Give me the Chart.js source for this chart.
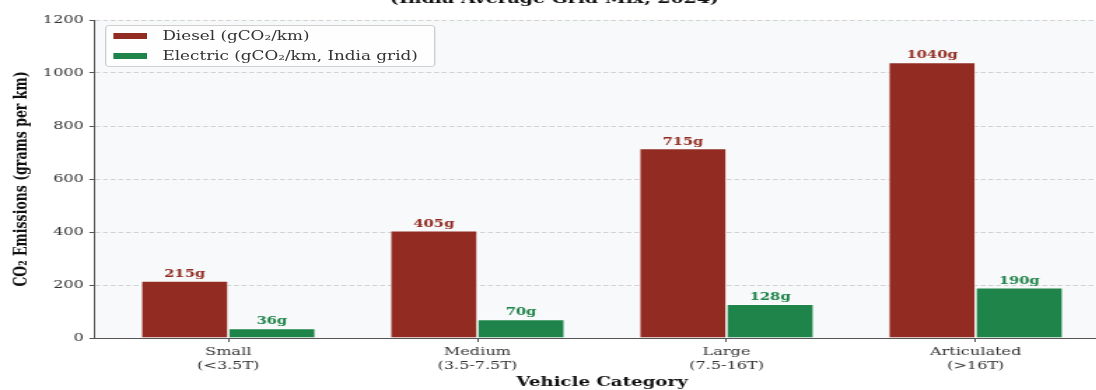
<!DOCTYPE html>
<html><head><meta charset="utf-8">
<script src="https://cdn.jsdelivr.net/npm/chart.js@4.4.1/dist/chart.umd.min.js"></script>
<style>
html,body{margin:0;padding:0;background:#fff;overflow:hidden;width:1096px;height:390px;}
#wrap{position:absolute;left:0;top:-30px;width:800px;height:430px;transform:scaleX(1.4);transform-origin:0 0;}
#c{position:absolute;left:0;top:0;}
#legend{position:absolute;left:75px;top:55px;width:234px;height:40px;border:1px solid #cfcfcf;border-radius:3px;background:rgba(255,255,255,0.85);font-family:'DejaVu Serif';font-size:12px;color:#333;}
.row{position:absolute;left:0;height:16px;line-height:16px;white-space:nowrap;}
.sw{position:absolute;left:5px;top:5px;width:24px;height:6px;}
.lt{position:absolute;left:40px;top:0;}
</style></head><body>
<div id="wrap"><canvas id="c" width="800" height="430"></canvas><div id="legend"></div></div>
<script>
const titleText = '(India Average Grid Mix, 2024)';
const categories = ['Small', 'Medium', 'Large', 'Articulated'];
const sizeClasses = ['(<3.5T)', '(3.5-7.5T)', '(7.5-16T)', '(>16T)'];
const dieselValues = [215, 405, 715, 1040];
const electricValues = [36, 70, 128, 190];
const yTicks = [0, 200, 400, 600, 800, 1000, 1200];
const seriesNames = ['Diesel (gCO\u2082/km)', 'Electric (gCO\u2082/km, India grid)'];
const yTitle = 'CO\u2082 Emissions (grams per km)';
const xTitle = 'Vehicle Category';

const DIESEL = '#922b21', ELECTRIC = '#1e8449';
const FONT = 'DejaVu Serif';

const bgPlugin = {
  id: 'bg',
  beforeDraw(chart) {
    const {ctx, chartArea: a} = chart;
    ctx.save(); ctx.fillStyle = '#f8f9fa';
    ctx.fillRect(a.left, a.top, a.right - a.left, a.bottom - a.top);
    ctx.restore();
  }
};
const barLabels = {
  id: 'barLabels',
  afterDatasetsDraw(chart) {
    const ctx = chart.ctx; ctx.save();
    ctx.font = 'bold 10.5px "DejaVu Serif"';
    ctx.textAlign = 'center'; ctx.textBaseline = 'alphabetic';
    chart.data.datasets.forEach((ds, i) => {
      const meta = chart.getDatasetMeta(i);
      ctx.fillStyle = ds.labelColor;
      meta.data.forEach((bar, j) => ctx.fillText(ds.data[j] + 'g', bar.x, bar.y - 4));
    });
    ctx.restore();
  }
};

const chart = new Chart(document.getElementById('c'), {
  type: 'bar',
  data: {
    labels: categories.map((c, i) => [c, sizeClasses[i]]),
    datasets: [
      {label: seriesNames[0], data: dieselValues, backgroundColor: DIESEL, labelColor: DIESEL,
       borderColor: 'rgba(255,255,255,0.7)', borderWidth: 0.8, categoryPercentage: 0.7, barPercentage: 1.0},
      {label: seriesNames[1], data: electricValues, backgroundColor: ELECTRIC, labelColor: ELECTRIC,
       borderColor: 'rgba(255,255,255,0.7)', borderWidth: 0.8, categoryPercentage: 0.7, barPercentage: 1.0}
    ]
  },
  options: {
    responsive: false, animation: false, devicePixelRatio: 1,
    layout: {padding: {left: 0, right: 7.9, top: 0, bottom: 0}},
    plugins: {
      legend: {display: false}, tooltip: {enabled: false},
      title: {display: true, text: titleText, color: '#111',
              font: {family: FONT, size: 13.5, weight: 'bold'}, padding: {top: 21, bottom: 12.8}}
    },
    scales: {
      x: {
        afterBuildTicks: (s) => { s._startValue = -0.535; s._valueRange = 4.07; },
        afterFit: (s) => { s.height = 62; },
        grid: {display: true, drawOnChartArea: false, drawTicks: true, tickLength: 4, tickColor: '#555', offset: false},
        border: {display: true, color: '#555', width: 1},
        ticks: {color: '#333', font: {family: FONT, size: 11.5}, padding: 3, maxRotation: 0, autoSkip: false},
        title: {display: true, text: xTitle, color: '#111', font: {family: FONT, size: 13, weight: 'bold'}, padding: {top: 0, bottom: 9.2}}
      },
      y: {
        min: 0, max: 1200,
        afterBuildTicks: (s) => { s.ticks = yTicks.map(v => ({value: v})); },
        afterFit: (s) => { s.width = 67.86; },
        grid: {color: '#d2d2d2', lineWidth: 1, tickLength: 4, tickColor: '#555', tickWidth: 1, tickBorderDash: []},
        border: {display: true, color: '#555', width: 1, dash: [3.5, 2]},
        ticks: {color: '#333', font: {family: FONT, size: 11.5}, padding: 4, callback: (v) => String(v)},
        title: {display: true, text: yTitle, color: '#111', font: {family: FONT, size: 12.5, weight: 'bold'}, padding: {top: 8, bottom: 0}}
      }
    }
  },
  plugins: [bgPlugin, barLabels]
});

const lg = document.getElementById('legend');
chart.data.datasets.forEach((ds, i) => {
  const row = document.createElement('div');
  row.className = 'row';
  row.style.top = (2 + i * 19.5) + 'px';
  row.style.width = '100%';
  const sw = document.createElement('div'); sw.className = 'sw'; sw.style.background = ds.backgroundColor;
  const t = document.createElement('div'); t.className = 'lt'; t.textContent = ds.label;
  row.appendChild(sw); row.appendChild(t); lg.appendChild(row);
});
</script>
</body></html>
